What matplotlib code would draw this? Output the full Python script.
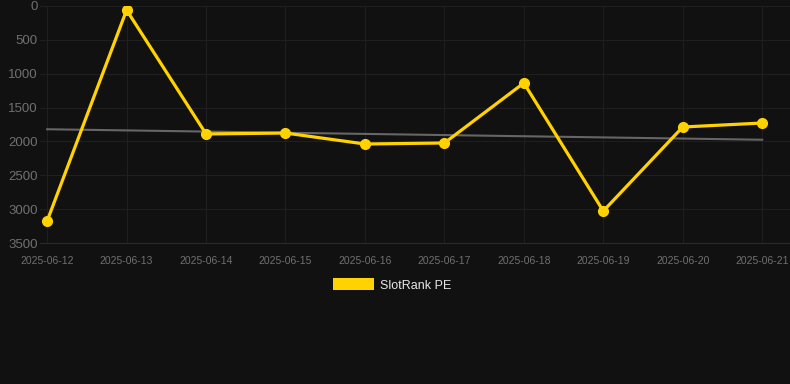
import matplotlib
matplotlib.use("Agg")
import matplotlib.pyplot as plt
from matplotlib.patches import Patch

plt.rcParams["font.family"] = ["Liberation Sans", "DejaVu Sans"]

dates = ["2025-06-12", "2025-06-13", "2025-06-14", "2025-06-15", "2025-06-16",
         "2025-06-17", "2025-06-18", "2025-06-19", "2025-06-20", "2025-06-21"]
values = [3175, 60, 1890, 1876, 2038, 2023, 1137, 3028, 1787, 1728]
trend = [1820, 1975]
yticks = [0, 500, 1000, 1500, 2000, 2500, 3000, 3500]

bg = "#111111"
gold = "#FFD200"

fig = plt.figure(figsize=(7.9, 3.84), dpi=100, facecolor=bg)
ax = fig.add_axes([40 / 790, 1 - 243 / 384, 750 / 790, 237 / 384], facecolor=bg)

x = list(range(len(dates)))
ax.plot([x[0], x[-1]], trend, color="#666666", lw=1.5, zorder=2)
ax.plot(x, values, color=gold, lw=2.3, marker="o", markersize=7, zorder=3)

ax.set_ylim(3500, 0)
ax.set_xlim(-0.09, 9.35)
ax.set_yticks(yticks)
ax.set_yticklabels([str(v) for v in yticks])
ax.set_xticks(x)
ax.set_xticklabels(dates)
ax.grid(True, color="#1f1f1f", lw=0.8)
ax.set_axisbelow(True)
for s in ax.spines.values():
    s.set_visible(False)
ax.spines["bottom"].set_visible(True)
ax.spines["bottom"].set_color("#2a2a2a")
ax.spines["bottom"].set_linewidth(0.8)
ax.tick_params(axis="y", length=0, pad=1.5, labelsize=9.5, labelcolor="#707070")
ax.tick_params(axis="x", length=0, pad=9, labelsize=7.5, labelcolor="#707070")

leg = fig.legend(handles=[Patch(facecolor=gold, edgecolor="none")], labels=["SlotRank PE"],
                 loc="center", bbox_to_anchor=(392 / 790, 1 - 285 / 384), frameon=False,
                 handlelength=3.3, handleheight=1.1, handletextpad=0.5, fontsize=9)
for t in leg.get_texts():
    t.set_color("#e6e6e6")

fig.savefig("out.png", dpi=100, facecolor=bg)
